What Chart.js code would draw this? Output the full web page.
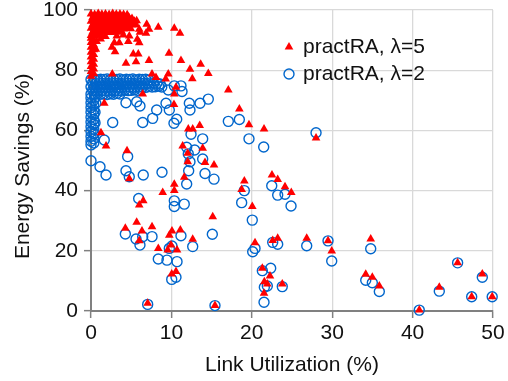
<!DOCTYPE html>
<html>
<head>
<meta charset="utf-8">
<script src="https://cdn.jsdelivr.net/npm/chart.js@4.4.0/dist/chart.umd.min.js"></script>
<style>
  html, body { margin:0; padding:0; background:#fff; }
  #wrap { width:508px; height:381px; }
</style>
</head>
<body>
<div id="wrap"><canvas id="chart" width="508" height="381"></canvas></div>
<script>
/* ── Values ─────────────────────────────────────── */
const seriesLabels = ['practRA, \u03bb=5', 'practRA, \u03bb=2'];
const xTicks = [0, 10, 20, 30, 40, 50];
const yTicks = [0, 20, 40, 60, 80, 100];

// λ=5 (red triangles): [link utilization %, energy savings %]
const lambda5Points = [
  // dense column near zero load
  [0.0,78.0],[0.35,78.8],[0.0,79.6],[0.35,80.4],[0.0,81.2],[0.35,82.0],[0.0,82.8],[0.35,83.6],[0.0,84.4],[0.35,85.2],
  [0.0,86.0],[0.35,86.8],[0.0,87.6],[0.35,88.4],[0.0,89.2],[0.35,90.0],[0.0,90.6],[0.7,89.5],[0.6,87.0],[1.2,90.4],
  // dense band at the top
  [0.0,98.7],[0.45,98.5],[0.9,98.8],[1.35,98.6],[1.8,98.7],[2.25,98.5],[2.7,98.8],[3.15,98.6],[3.6,98.7],[4.05,98.5],[4.5,98.4],
  [0.2,97.5],[0.65,97.3],[1.1,97.6],[1.55,97.4],[2.0,97.5],[2.45,97.3],[2.9,97.6],[3.35,97.4],[3.8,97.5],[4.25,97.3],[4.7,97.6],[5.1,97.2],
  [0.0,96.3],[0.45,96.1],[0.9,96.4],[1.35,96.2],[1.8,96.3],[2.25,96.1],[2.7,96.4],[3.15,96.2],[3.6,96.3],[4.05,96.1],[4.5,96.4],[4.95,96.2],[5.4,96.3],
  [0.2,95.1],[0.65,94.9],[1.1,95.2],[1.55,95.0],[2.0,95.1],[2.45,94.9],[2.9,95.2],[3.35,95.0],[3.8,95.1],[4.25,94.9],[4.7,95.2],[5.15,95.0],[5.6,95.1],
  [0.0,93.9],[0.45,93.7],[0.9,94.0],[1.35,93.8],[1.8,93.9],[2.25,93.7],[2.7,94.0],[3.15,93.8],[3.6,93.9],[4.05,93.7],[4.5,94.0],[4.95,93.8],
  [0.2,92.7],[0.65,92.5],[1.1,92.8],[1.55,92.6],[2.0,92.7],[2.45,92.5],[2.9,92.8],[3.35,92.6],[3.8,92.9],
  [0.0,91.5],[0.45,91.3],[0.9,91.6],[1.35,91.4],[1.8,91.2],
  // scattered
  [5.68,96.4],[6.93,95.3],[8.37,94.3],[10.36,93.9],[11.07,92.3],[7.21,93.6],[6.0,93.6],[6.84,92.3],[6.09,92.6],
  [4.02,91.7],[3.2,91.4],[4.76,91.4],[2.9,89.1],[3.52,89.1],[4.64,89.5],[6.0,89.1],[5.76,90.3],[2.61,87.6],
  [2.99,86.1],[5.26,85.4],[5.88,85.4],[5.6,82.8],[4.35,82.3],[7.21,83.2],[9.7,85.6],[11.19,83.2],[12.31,80.3],
  [13.64,82.0],[2.65,78.7],[7.59,78.7],[8.08,77.6],[9.61,78.7],[9.29,77.1],[12.6,77.2],[10.57,74.3],[14.59,78.9],
  [17.08,73.4],[18.45,67.1],[19.65,61.9],[21.52,60.5],[27.99,57.5],[13.52,61.6],[12.1,60.5],[12.65,60.5],
  [13.89,54.1],[14.18,49.3],[15.3,48.5],[19.07,43.2],[18.74,40.4],[23.22,43.7],[22.51,45.2],[24.13,41.3],
  [24.91,39.4],[20.06,34.7],[15.14,31.3],[20.4,22.7],[22.6,23.4],[23.22,24.2],[26.83,24.2],[29.48,23.3],
  [29.94,19.9],[21.31,14.2],[22.26,11.6],[21.56,9.7],[21.93,9.0],[23.79,9.0],[21.52,5.9],[15.42,1.8],
  [34.79,23.9],[34.17,12.2],[34.99,11.2],[35.86,8.3],[40.83,0.3],[43.32,7.9],[45.6,16.0],[48.67,12.3],
  [47.35,4.75],[49.9,4.75],
  [1.65,69.0],[10.32,68.6],[6.43,72.1],[10.36,72.1],[1.24,59.2],[1.87,54.8],[4.48,53.2],[11.4,54.8],[12.03,52.4],
  [12.03,49.6],[4.76,43.9],[8.92,39.4],[10.36,42.1],[10.36,40.0],[11.6,44.4],[6.5,36.6],[6.0,35.2],[5.68,29.5],
  [4.27,27.5],[6.34,26.6],[7.59,28.0],[6.0,23.3],[10.07,26.6],[9.74,25.2],[11.11,26.9],[12.65,23.8],[8.37,20.8],
  [9.54,20.3],[9.95,21.9],[10.7,20.3],[10.04,12.3],[10.57,13.1],[7.05,2.6]
];

// λ=2 (blue circles)
const lambda2Points = [
  // dense column near zero load
  [0.0,55.2],[0.35,55.8],[0.0,56.4],[0.35,57.2],[0.0,58.0],[0.35,58.8],[0.0,59.6],[0.35,60.4],[0.0,61.2],[0.35,62.0],
  [0.0,62.8],[0.35,63.6],[0.0,64.4],[0.35,65.2],[0.0,66.0],[0.35,66.8],[0.0,67.6],[0.35,68.4],[0.0,69.2],[0.35,70.0],
  [0.0,70.8],[0.5,71.0],[0.6,69.0],[0.5,66.0],[0.5,62.5],[0.4,59.0],
  // dense band
  [0.0,76.9],[0.4,77.1],[0.8,76.8],[1.2,77.0],[1.6,76.9],[2.0,77.1],[2.4,76.8],[2.8,77.0],[3.2,76.9],[3.6,77.1],
  [4.0,76.8],[4.4,77.0],[4.8,76.9],[5.2,77.1],[5.6,76.8],[6.0,77.0],[6.4,76.9],[6.8,77.0],[7.2,76.7],
  [0.2,75.7],[0.6,75.5],[1.0,75.8],[1.4,75.6],[1.8,75.7],[2.2,75.5],[2.6,75.8],[3.0,75.6],[3.4,75.7],[3.8,75.5],
  [4.2,75.8],[4.6,75.6],[5.0,75.7],[5.4,75.5],[5.8,75.8],[6.2,75.6],[6.6,75.7],[7.0,75.5],[7.4,75.8],[7.8,75.6],
  [8.2,75.7],[8.6,75.4],
  [0.0,74.5],[0.4,74.3],[0.8,74.6],[1.2,74.4],[1.6,74.5],[2.0,74.3],[2.4,74.6],[2.8,74.4],[3.2,74.5],[3.6,74.3],
  [4.0,74.6],[4.4,74.4],[4.8,74.5],[5.2,74.3],[5.6,74.6],[6.0,74.4],[6.4,74.5],[6.8,74.3],[7.2,74.6],[7.6,74.4],
  [8.0,74.5],[8.4,74.7],[8.8,74.4],
  [0.2,73.3],[0.6,73.1],[1.0,73.4],[1.4,73.2],[1.8,73.3],[2.2,73.1],[2.6,73.4],[3.0,73.2],[3.4,73.3],[3.8,73.1],
  [4.2,73.4],[4.6,73.2],[5.0,73.3],[5.4,73.5],[5.8,73.3],[6.2,73.6],
  [0.0,72.1],[0.4,71.9],[0.8,72.2],[1.2,72.0],[1.6,72.1],[2.0,71.9],[2.4,72.2],[2.8,72.0],[3.2,72.3],[3.6,72.1],
  // scattered
  [9.61,73.4],[10.36,74.8],[11.19,74.8],[11.32,72.9],[4.35,69.2],[5.68,69.5],[6.09,68.1],[2.7,62.6],[6.43,62.6],
  [7.67,64.0],[8.17,66.8],[9.33,69.0],[9.74,66.8],[10.66,63.7],[10.32,62.4],[12.23,69.0],[12.31,66.8],[13.56,69.0],
  [14.59,70.4],[17.08,63.0],[18.45,63.6],[12.44,58.7],[13.89,57.2],[19.65,57.2],[21.48,54.5],[27.99,59.2],
  [11.9,54.4],[12.9,53.5],[12.1,52.2],[13.89,50.5],[12.31,49.6],[14.18,45.7],[15.3,43.8],[11.9,42.2],[12.15,46.6],
  [19.07,40.0],[22.48,41.6],[23.22,38.5],[24.13,38.8],[24.88,34.9],[18.74,36.0],[20.06,30.2],[15.09,25.5],
  [20.4,20.8],[20.11,19.7],[22.6,22.8],[23.22,22.2],[26.83,21.7],[29.48,23.3],[29.94,16.6],[21.31,13.4],
  [22.35,14.2],[21.56,7.9],[21.93,8.3],[23.79,8.1],[21.52,2.9],[15.42,1.8],
  [34.79,20.7],[34.17,10.2],[34.99,9.4],[35.86,6.5],[40.83,0.3],[43.32,6.6],[45.6,16.0],[48.67,11.2],
  [47.35,4.75],[49.9,4.75],
  [0.0,49.9],[1.12,47.9],[1.65,56.8],[1.87,45.2],[4.35,46.6],[4.76,44.6],[6.5,45.2],[8.83,46.1],[4.56,51.3],
  [5.93,37.4],[10.36,36.6],[10.36,34.7],[11.6,35.5],[4.27,25.6],[5.6,23.9],[6.43,24.7],[6.09,21.9],[7.59,24.7],
  [11.19,25.0],[10.07,21.6],[9.74,20.8],[12.65,21.4],[8.37,17.3],[9.45,16.9],[10.7,16.4],[10.04,10.5],
  [10.57,11.2],[7.05,2.2]
];

const FONT = '"Liberation Sans", Arial, sans-serif';
const toXY = pts => pts.map(p => ({ x: p[0], y: p[1] }));

/* ── Legend drawn inside the plot, top right ─────── */
const insideLegend = {
  id: 'insideLegend',
  afterDraw(chart) {
    const { ctx, chartArea } = chart;
    const x0 = chartArea.right - 204;
    const y0 = chartArea.top + 37;
    ctx.save();
    ctx.font = '21px ' + FONT;
    ctx.textBaseline = 'middle';
    chart.data.datasets.forEach((ds, i) => {
      const y = y0 + i * 27;
      ctx.fillStyle = ds.backgroundColor;
      ctx.strokeStyle = ds.borderColor;
      ctx.lineWidth = ds.borderWidth;
      Chart.helpers.drawPoint(ctx, {
        pointStyle: ds.pointStyle, radius: ds.pointRadius,
        borderWidth: ds.borderWidth, rotation: 0
      }, x0, y);
      ctx.fillStyle = '#111';
      ctx.fillText(ds.label, x0 + 14, y);
    });
    ctx.restore();
  }
};

new Chart(document.getElementById('chart'), {
  type: 'scatter',
  data: {
    datasets: [
      {
        label: seriesLabels[0],
        data: toXY(lambda5Points),
        pointStyle: 'triangle',
        pointRadius: 5,
        backgroundColor: '#ff0000',
        borderColor: '#ff0000',
        borderWidth: 0,
        clip: false
      },
      {
        label: seriesLabels[1],
        data: toXY(lambda2Points),
        pointStyle: 'circle',
        pointRadius: 5,
        backgroundColor: 'rgba(0,0,0,0)',
        borderColor: '#0066cc',
        borderWidth: 1.4,
        clip: false
      }
    ]
  },
  options: {
    responsive: false,
    animation: false,
    events: [],
    layout: { padding: { left: 0, right: 15, top: 10, bottom: 0 } },
    plugins: { legend: { display: false }, tooltip: { enabled: false } },
    scales: {
      x: {
        type: 'linear', min: 0, max: 50,
        afterBuildTicks: s => { s.ticks = xTicks.map(v => ({ value: v })); },
        afterFit: s => { s.height = 70; s.paddingLeft = 0; s.paddingRight = 0; },
        grid: { color: '#d9d9d9', lineWidth: 1.3, tickLength: 7, tickColor: '#808080', tickWidth: 1.5 },
        border: { color: '#808080', width: 2 },
        ticks: { color: '#111', font: { family: FONT, size: 21 }, padding: 3, maxRotation: 0 },
        title: { display: true, text: 'Link Utilization (%)', color: '#111',
                 font: { family: FONT, size: 21 }, padding: { top: 0, bottom: 3 } }
      },
      y: {
        type: 'linear', min: 0, max: 100,
        afterBuildTicks: s => { s.ticks = yTicks.map(v => ({ value: v })); },
        afterFit: s => { s.width = 91; s.paddingTop = 0; s.paddingBottom = 0; },
        grid: { color: '#d9d9d9', lineWidth: 1.3, tickLength: 7, tickColor: '#808080', tickWidth: 1.5 },
        border: { color: '#808080', width: 2 },
        ticks: { color: '#111', font: { family: FONT, size: 21 }, padding: 6 },
        // trailing spaces nudge the rotated title down a little, as in the figure
        title: { display: true, text: 'Energy Savings (%)\u00a0\u00a0', color: '#111',
                 font: { family: FONT, size: 21 }, padding: { top: 11, bottom: 0 } }
      }
    }
  },
  plugins: [insideLegend]
});
</script>
</body>
</html>
